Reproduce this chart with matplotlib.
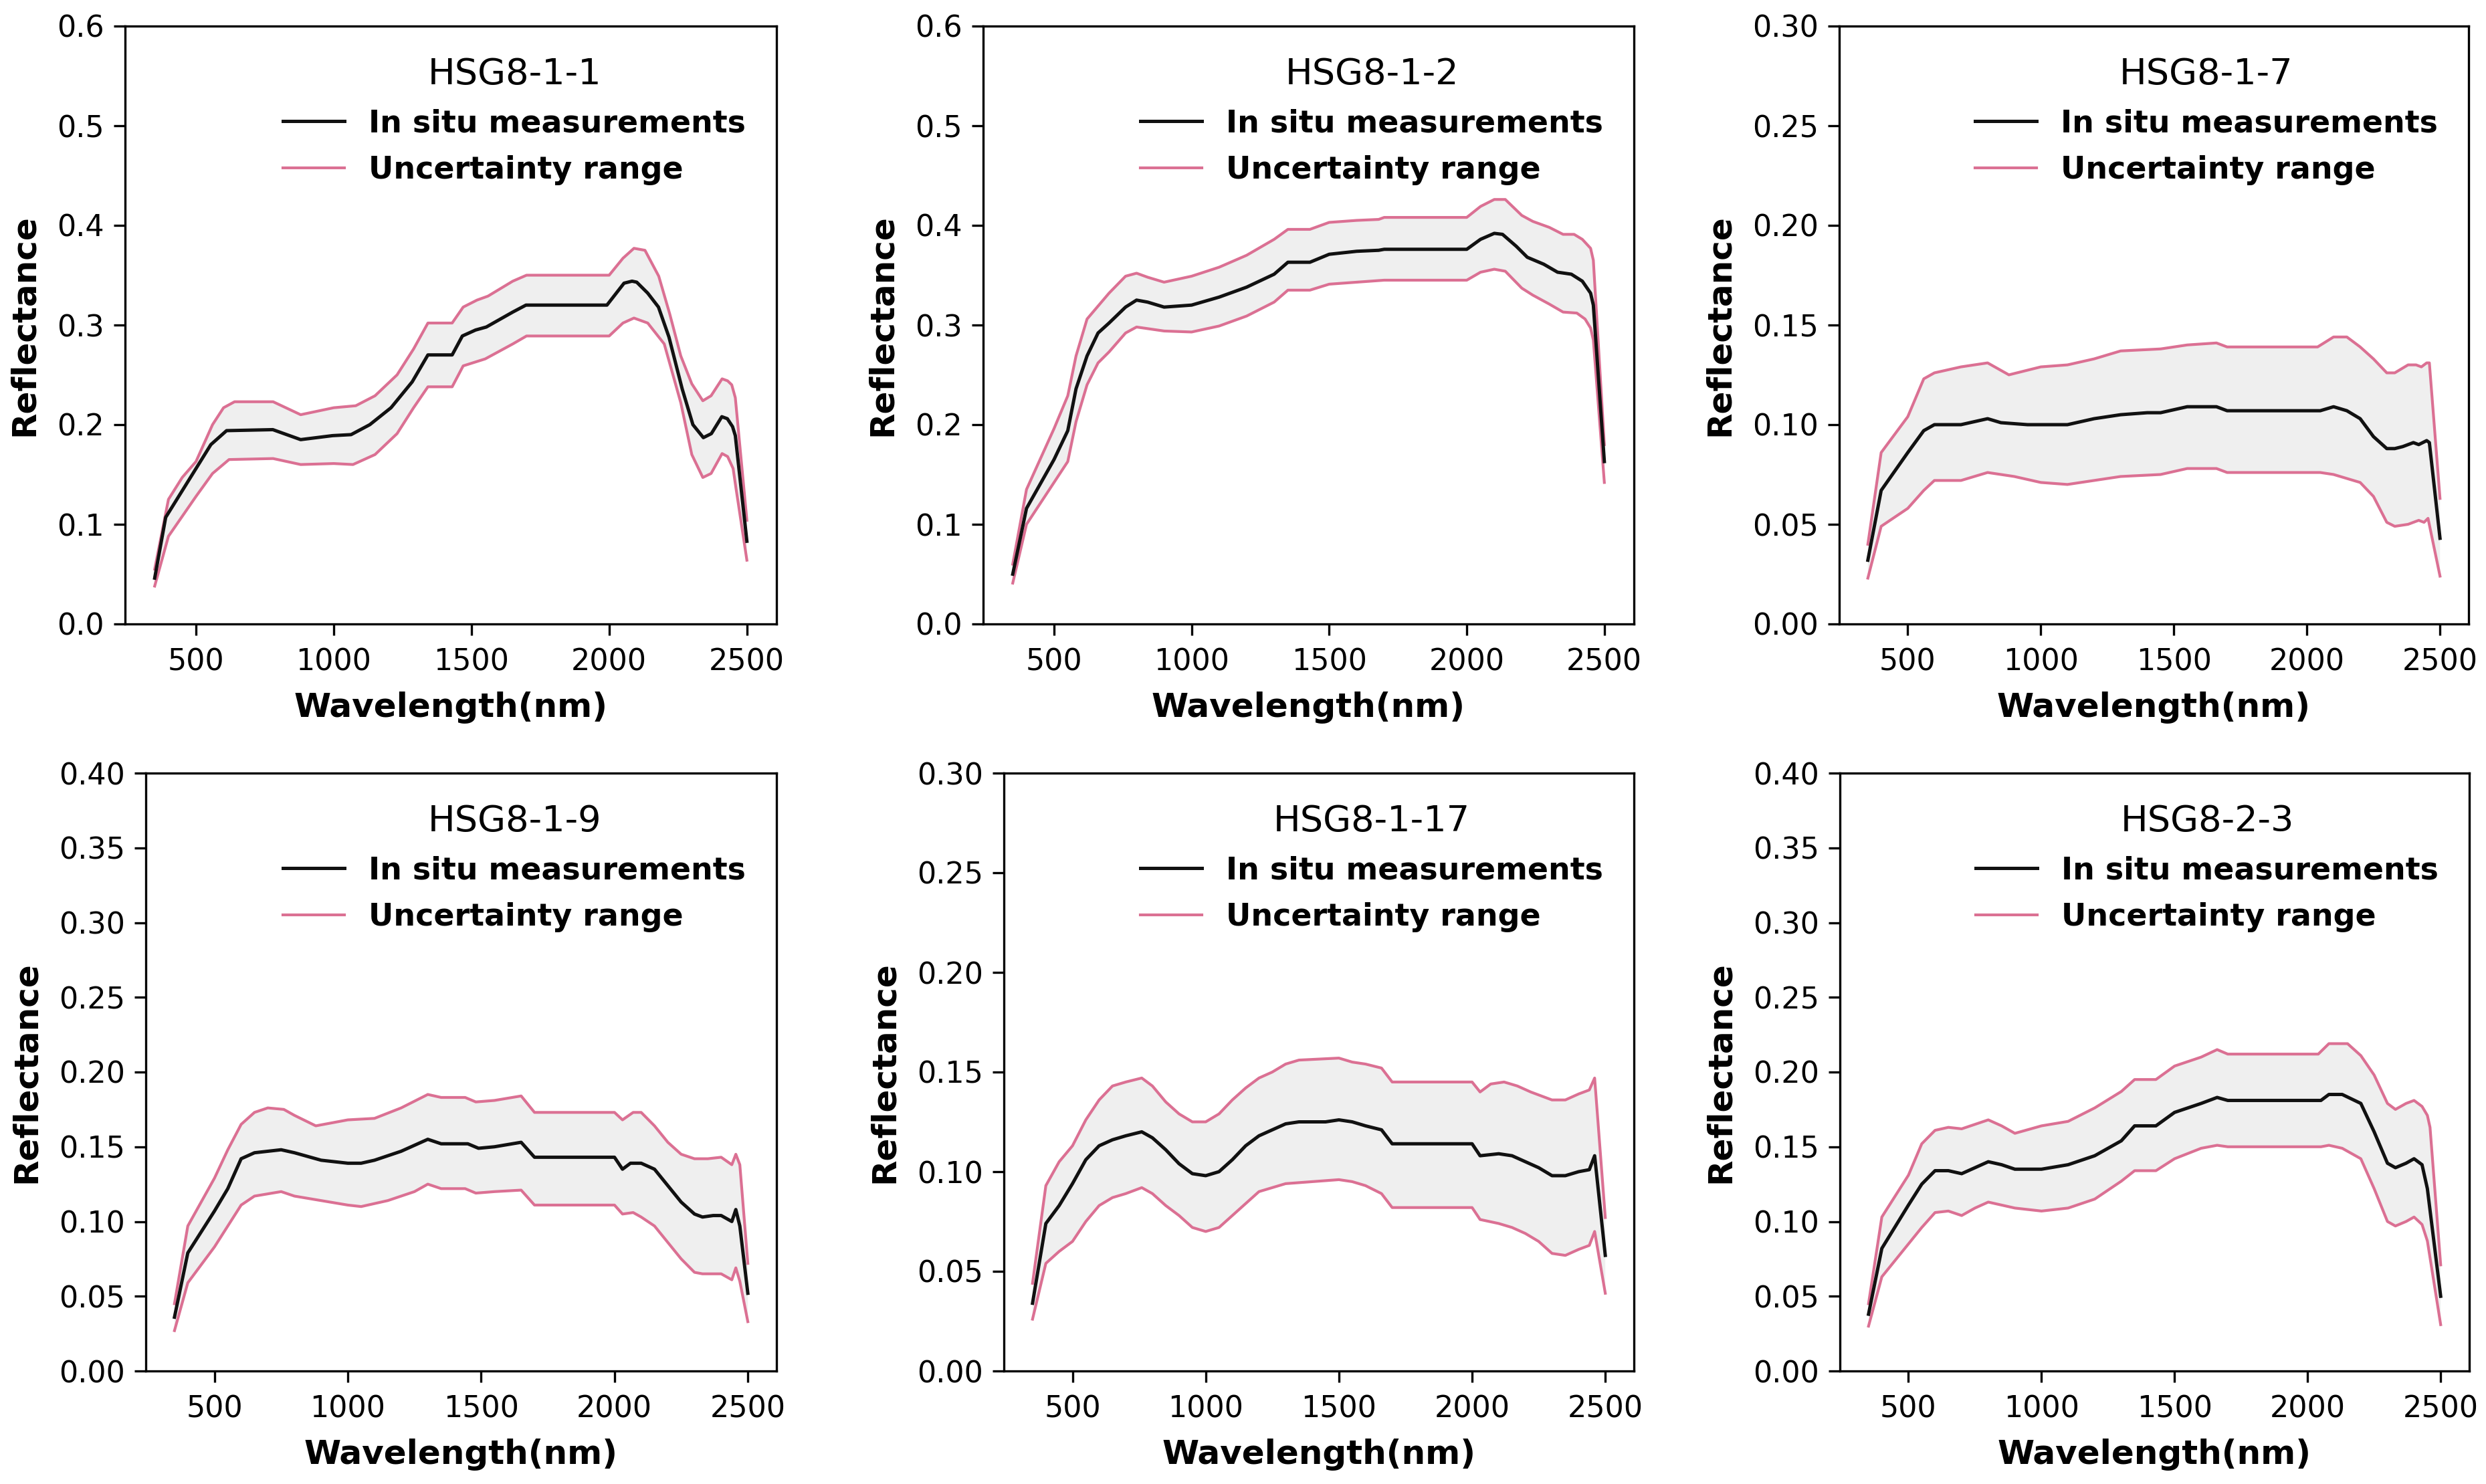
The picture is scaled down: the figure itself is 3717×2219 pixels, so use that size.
import numpy as np
import matplotlib
matplotlib.use("Agg")
import matplotlib.pyplot as plt
from matplotlib.lines import Line2D

# ---------------- data ----------------
titles = ["HSG8-1-1", "HSG8-1-2", "HSG8-1-7", "HSG8-1-9", "HSG8-1-17", "HSG8-2-3"]
ylims = [0.6, 0.6, 0.30, 0.40, 0.30, 0.40]
ysteps = [0.1, 0.1, 0.05, 0.05, 0.05, 0.05]

# HSG8-1-1
p1_wl_mean = [350, 390, 554, 611, 779, 880, 996, 1063, 1131, 1208, 1285, 1342, 1430, 1467, 1515, 1554, 1650, 1698, 1992, 2054, 2083, 2100, 2140, 2179, 2217, 2265, 2304, 2342, 2371, 2409, 2429, 2448, 2458, 2500]
p1_mean = [0.046, 0.107, 0.180, 0.194, 0.195, 0.185, 0.189, 0.190, 0.200, 0.217, 0.243, 0.270, 0.270, 0.289, 0.295, 0.298, 0.313, 0.320, 0.320, 0.342, 0.344, 0.343, 0.332, 0.318, 0.288, 0.236, 0.200, 0.187, 0.191, 0.208, 0.206, 0.198, 0.189, 0.083]
p1_wl_up = [350, 400, 450, 500, 560, 600, 640, 780, 880, 1000, 1080, 1150, 1230, 1290, 1342, 1430, 1470, 1520, 1560, 1650, 1700, 2000, 2050, 2090, 2130, 2180, 2220, 2260, 2300, 2340, 2370, 2410, 2430, 2445, 2458, 2500]
p1_up = [0.055, 0.125, 0.147, 0.163, 0.200, 0.217, 0.223, 0.223, 0.210, 0.217, 0.219, 0.229, 0.250, 0.276, 0.302, 0.302, 0.318, 0.325, 0.329, 0.344, 0.350, 0.350, 0.367, 0.377, 0.375, 0.349, 0.311, 0.269, 0.241, 0.224, 0.229, 0.246, 0.244, 0.240, 0.227, 0.104]
p1_wl_lo = [350, 400, 500, 560, 620, 780, 880, 1000, 1070, 1150, 1230, 1290, 1342, 1430, 1470, 1550, 1650, 1700, 2000, 2050, 2090, 2140, 2200, 2260, 2300, 2340, 2370, 2410, 2430, 2450, 2460, 2500]
p1_lo = [0.038, 0.088, 0.128, 0.151, 0.165, 0.166, 0.160, 0.161, 0.160, 0.170, 0.191, 0.217, 0.238, 0.238, 0.259, 0.266, 0.281, 0.289, 0.289, 0.302, 0.307, 0.302, 0.281, 0.222, 0.170, 0.147, 0.151, 0.171, 0.168, 0.156, 0.137, 0.064]

# HSG8-1-2
p2_wl_mean = [350, 400, 500, 550, 580, 620, 660, 700, 760, 800, 840, 900, 1000, 1100, 1200, 1300, 1350, 1430, 1500, 1600, 1680, 1700, 2000, 2050, 2100, 2130, 2180, 2220, 2280, 2330, 2380, 2420, 2450, 2460, 2500]
p2_mean = [0.050, 0.116, 0.165, 0.194, 0.236, 0.269, 0.292, 0.302, 0.318, 0.325, 0.323, 0.318, 0.320, 0.328, 0.338, 0.351, 0.363, 0.363, 0.371, 0.374, 0.375, 0.376, 0.376, 0.386, 0.392, 0.391, 0.379, 0.368, 0.361, 0.353, 0.351, 0.344, 0.332, 0.320, 0.163]
p2_wl_up = [350, 400, 500, 550, 580, 620, 700, 760, 800, 840, 900, 1000, 1100, 1200, 1300, 1350, 1430, 1500, 1600, 1680, 1700, 2000, 2050, 2100, 2140, 2200, 2240, 2300, 2350, 2390, 2420, 2450, 2460, 2500]
p2_up = [0.060, 0.135, 0.196, 0.229, 0.269, 0.306, 0.332, 0.349, 0.352, 0.348, 0.343, 0.349, 0.358, 0.370, 0.386, 0.396, 0.396, 0.403, 0.405, 0.406, 0.408, 0.408, 0.419, 0.426, 0.426, 0.410, 0.404, 0.398, 0.391, 0.391, 0.386, 0.377, 0.365, 0.180]
p2_wl_lo = [350, 400, 500, 550, 580, 620, 660, 700, 760, 800, 900, 1000, 1100, 1200, 1300, 1350, 1430, 1500, 1600, 1700, 2000, 2050, 2100, 2140, 2200, 2240, 2300, 2350, 2400, 2430, 2450, 2460, 2500]
p2_lo = [0.041, 0.100, 0.142, 0.163, 0.203, 0.240, 0.262, 0.273, 0.292, 0.298, 0.294, 0.293, 0.299, 0.309, 0.323, 0.335, 0.335, 0.341, 0.343, 0.345, 0.345, 0.353, 0.356, 0.354, 0.337, 0.330, 0.321, 0.313, 0.312, 0.306, 0.297, 0.285, 0.142]

# HSG8-1-7
p3_wl_mean = [350, 400, 500, 560, 600, 700, 800, 850, 950, 1100, 1200, 1300, 1400, 1450, 1550, 1660, 1700, 2050, 2100, 2150, 2200, 2250, 2300, 2330, 2360, 2400, 2420, 2450, 2460, 2500]
p3_mean = [0.032, 0.067, 0.086, 0.097, 0.100, 0.100, 0.103, 0.101, 0.100, 0.100, 0.103, 0.105, 0.106, 0.106, 0.109, 0.109, 0.107, 0.107, 0.109, 0.107, 0.103, 0.094, 0.088, 0.088, 0.089, 0.091, 0.090, 0.092, 0.091, 0.043]
p3_wl_up = [350, 400, 500, 560, 600, 700, 800, 880, 1000, 1100, 1200, 1300, 1450, 1550, 1660, 1700, 2040, 2100, 2150, 2200, 2250, 2300, 2330, 2380, 2410, 2430, 2450, 2460, 2500]
p3_up = [0.040, 0.086, 0.104, 0.123, 0.126, 0.129, 0.131, 0.125, 0.129, 0.130, 0.133, 0.137, 0.138, 0.140, 0.141, 0.139, 0.139, 0.144, 0.144, 0.139, 0.133, 0.126, 0.126, 0.130, 0.130, 0.129, 0.131, 0.131, 0.063]
p3_wl_lo = [350, 400, 500, 560, 600, 700, 800, 900, 1000, 1100, 1200, 1300, 1450, 1550, 1660, 1700, 2050, 2100, 2200, 2250, 2300, 2330, 2380, 2420, 2440, 2455, 2500]
p3_lo = [0.023, 0.049, 0.058, 0.067, 0.072, 0.072, 0.076, 0.074, 0.071, 0.070, 0.072, 0.074, 0.075, 0.078, 0.078, 0.076, 0.076, 0.075, 0.071, 0.064, 0.051, 0.049, 0.050, 0.052, 0.051, 0.053, 0.024]

# HSG8-1-9
p4_wl_mean = [350, 400, 500, 550, 600, 650, 750, 800, 900, 1000, 1050, 1100, 1200, 1300, 1350, 1450, 1490, 1550, 1650, 1700, 2000, 2030, 2060, 2100, 2150, 2200, 2250, 2300, 2330, 2370, 2400, 2440, 2455, 2470, 2500]
p4_mean = [0.036, 0.079, 0.107, 0.122, 0.142, 0.146, 0.148, 0.146, 0.141, 0.139, 0.139, 0.141, 0.147, 0.155, 0.152, 0.152, 0.149, 0.150, 0.153, 0.143, 0.143, 0.135, 0.139, 0.139, 0.135, 0.124, 0.113, 0.105, 0.103, 0.104, 0.104, 0.100, 0.108, 0.097, 0.052]
p4_wl_up = [350, 400, 500, 550, 600, 650, 700, 760, 800, 880, 1000, 1100, 1200, 1300, 1350, 1440, 1480, 1550, 1650, 1700, 2000, 2030, 2070, 2100, 2150, 2200, 2250, 2300, 2350, 2400, 2440, 2455, 2470, 2500]
p4_up = [0.045, 0.097, 0.129, 0.148, 0.165, 0.173, 0.176, 0.175, 0.171, 0.164, 0.168, 0.169, 0.176, 0.185, 0.183, 0.183, 0.180, 0.181, 0.184, 0.173, 0.173, 0.168, 0.173, 0.173, 0.164, 0.153, 0.145, 0.142, 0.142, 0.143, 0.138, 0.145, 0.138, 0.072]
p4_wl_lo = [350, 400, 500, 550, 600, 650, 750, 800, 900, 1000, 1050, 1150, 1250, 1300, 1350, 1440, 1480, 1550, 1650, 1700, 2000, 2030, 2070, 2100, 2150, 2200, 2250, 2300, 2330, 2400, 2440, 2455, 2470, 2500]
p4_lo = [0.027, 0.059, 0.083, 0.097, 0.111, 0.117, 0.120, 0.117, 0.114, 0.111, 0.110, 0.114, 0.120, 0.125, 0.122, 0.122, 0.119, 0.120, 0.121, 0.111, 0.111, 0.105, 0.106, 0.103, 0.097, 0.086, 0.075, 0.066, 0.065, 0.065, 0.061, 0.069, 0.060, 0.033]

# HSG8-1-17
p5_wl_mean = [350, 400, 450, 500, 550, 600, 650, 700, 760, 800, 850, 900, 950, 1000, 1050, 1100, 1150, 1200, 1250, 1300, 1350, 1450, 1500, 1550, 1600, 1660, 1700, 2000, 2030, 2100, 2150, 2200, 2250, 2300, 2350, 2400, 2440, 2460, 2500]
p5_mean = [0.034, 0.074, 0.083, 0.094, 0.106, 0.113, 0.116, 0.118, 0.120, 0.117, 0.111, 0.104, 0.099, 0.098, 0.100, 0.106, 0.113, 0.118, 0.121, 0.124, 0.125, 0.125, 0.126, 0.125, 0.123, 0.121, 0.114, 0.114, 0.108, 0.109, 0.108, 0.105, 0.102, 0.098, 0.098, 0.100, 0.101, 0.108, 0.058]
p5_wl_up = [350, 400, 450, 500, 550, 600, 650, 700, 760, 800, 850, 900, 950, 1000, 1050, 1100, 1150, 1200, 1250, 1300, 1350, 1500, 1550, 1600, 1660, 1700, 2000, 2030, 2070, 2120, 2170, 2220, 2300, 2350, 2400, 2440, 2460, 2500]
p5_up = [0.044, 0.093, 0.105, 0.113, 0.126, 0.136, 0.143, 0.145, 0.147, 0.143, 0.135, 0.129, 0.125, 0.125, 0.129, 0.136, 0.142, 0.147, 0.150, 0.154, 0.156, 0.157, 0.155, 0.154, 0.152, 0.145, 0.145, 0.140, 0.144, 0.145, 0.143, 0.140, 0.136, 0.136, 0.139, 0.141, 0.147, 0.077]
p5_wl_lo = [350, 400, 450, 500, 550, 600, 650, 700, 760, 800, 850, 900, 950, 1000, 1050, 1100, 1150, 1200, 1250, 1300, 1400, 1500, 1550, 1600, 1660, 1700, 2000, 2030, 2100, 2150, 2200, 2250, 2300, 2350, 2400, 2440, 2460, 2500]
p5_lo = [0.026, 0.054, 0.060, 0.065, 0.075, 0.083, 0.087, 0.089, 0.092, 0.089, 0.083, 0.078, 0.072, 0.070, 0.072, 0.078, 0.084, 0.090, 0.092, 0.094, 0.095, 0.096, 0.095, 0.093, 0.089, 0.082, 0.082, 0.076, 0.074, 0.072, 0.069, 0.065, 0.059, 0.058, 0.061, 0.063, 0.070, 0.039]

# HSG8-2-3
p6_wl_mean = [350, 400, 500, 550, 600, 650, 700, 750, 800, 850, 900, 1000, 1100, 1200, 1300, 1350, 1430, 1500, 1600, 1660, 1700, 2050, 2080, 2130, 2200, 2250, 2300, 2330, 2370, 2400, 2430, 2450, 2500]
p6_mean = [0.038, 0.082, 0.111, 0.125, 0.134, 0.134, 0.132, 0.136, 0.140, 0.138, 0.135, 0.135, 0.138, 0.144, 0.154, 0.164, 0.164, 0.173, 0.179, 0.183, 0.181, 0.181, 0.185, 0.185, 0.179, 0.160, 0.139, 0.136, 0.139, 0.142, 0.138, 0.122, 0.050]
p6_wl_up = [350, 400, 500, 550, 600, 650, 700, 750, 800, 850, 900, 1000, 1100, 1200, 1300, 1350, 1430, 1500, 1600, 1660, 1700, 2040, 2080, 2150, 2200, 2250, 2300, 2330, 2370, 2400, 2430, 2450, 2460, 2500]
p6_up = [0.045, 0.103, 0.131, 0.152, 0.161, 0.163, 0.162, 0.165, 0.168, 0.164, 0.159, 0.164, 0.167, 0.176, 0.187, 0.195, 0.195, 0.204, 0.210, 0.215, 0.212, 0.212, 0.219, 0.219, 0.211, 0.198, 0.179, 0.175, 0.179, 0.181, 0.177, 0.171, 0.163, 0.071]
p6_wl_lo = [350, 400, 500, 550, 600, 650, 700, 750, 800, 850, 900, 1000, 1100, 1200, 1300, 1350, 1430, 1500, 1600, 1660, 1700, 2050, 2080, 2130, 2200, 2250, 2300, 2330, 2370, 2400, 2430, 2450, 2500]
p6_lo = [0.030, 0.063, 0.085, 0.096, 0.106, 0.107, 0.104, 0.109, 0.113, 0.111, 0.109, 0.107, 0.109, 0.115, 0.127, 0.134, 0.134, 0.142, 0.149, 0.151, 0.150, 0.150, 0.151, 0.149, 0.142, 0.122, 0.100, 0.097, 0.100, 0.103, 0.098, 0.087, 0.031]

panels = [
    (p1_wl_mean, p1_mean, p1_wl_up, p1_up, p1_wl_lo, p1_lo),
    (p2_wl_mean, p2_mean, p2_wl_up, p2_up, p2_wl_lo, p2_lo),
    (p3_wl_mean, p3_mean, p3_wl_up, p3_up, p3_wl_lo, p3_lo),
    (p4_wl_mean, p4_mean, p4_wl_up, p4_up, p4_wl_lo, p4_lo),
    (p5_wl_mean, p5_mean, p5_wl_up, p5_up, p5_wl_lo, p5_lo),
    (p6_wl_mean, p6_mean, p6_wl_up, p6_up, p6_wl_lo, p6_lo),
]

# ---------------- layout ----------------
W, H = 3717, 2219
DPI = 300
fig = plt.figure(figsize=(W / DPI, H / DPI), dpi=DPI)

# axes boxes in pixels: (left, right, top, bottom)
boxes = [
    (187, 1161, 39, 933), (1470, 2443, 39, 933), (2750, 3691, 39, 933),
    (218, 1161, 1156, 2050), (1501, 2443, 1156, 2050), (2751, 3692, 1156, 2050),
]

BLACK = "#111111"
PINK = "#DB7093"
FILL = "#efefef"

for i, (box, data) in enumerate(zip(boxes, panels)):
    l, r, t, b = box
    ax = fig.add_axes([l / W, 1 - b / H, (r - l) / W, (b - t) / H])
    wm, m, wu, u, wlo, lo = data
    poly_x = np.concatenate([wu, wlo[::-1]])
    poly_y = np.concatenate([u, lo[::-1]])
    ax.fill(poly_x, poly_y, color=FILL, lw=0, zorder=1)
    ax.plot(wu, u, color=PINK, lw=1.0, zorder=2)
    ax.plot(wlo, lo, color=PINK, lw=1.0, zorder=2)
    ax.plot(wm, m, color=BLACK, lw=1.2, zorder=3)

    ax.set_xlim(242.5, 2607.5)
    ax.set_xticks([500, 1000, 1500, 2000, 2500])
    ax.set_ylim(0, ylims[i])
    ax.set_yticks(np.round(np.arange(0, ylims[i] + 1e-9, ysteps[i]), 2))
    if ysteps[i] >= 0.1:
        ax.set_yticklabels([f"{v:.1f}" for v in ax.get_yticks()])
    else:
        ax.set_yticklabels([f"{v:.2f}" for v in ax.get_yticks()])
    ax.tick_params(labelsize=10.7, length=4, width=0.8)
    ax.tick_params(axis="x", pad=4.5)
    ax.set_xlabel("Wavelength(nm)", fontsize=12, fontweight="bold", labelpad=5.5)
    ax.set_ylabel("Reflectance", fontsize=12, fontweight="bold", labelpad=6)

    handles = [Line2D([], [], color=BLACK, lw=1.2), Line2D([], [], color=PINK, lw=1.0)]
    leg = ax.legend(handles, ["In situ measurements", "Uncertainty range"],
                    title=titles[i], loc="upper right", frameon=False,
                    prop={"weight": "bold", "size": 11}, title_fontsize=13,
                    labelspacing=0.55, borderaxespad=0.6)

fig.savefig("out.png", dpi=DPI)
